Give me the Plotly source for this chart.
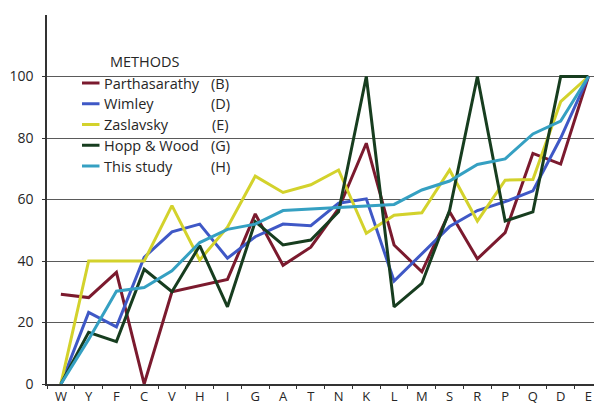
import plotly.graph_objects as go

# Amino acid residues along the x axis
residues = ["W", "Y", "F", "C", "V", "H", "I", "G", "A", "T",
            "N", "K", "L", "M", "S", "R", "P", "Q", "D", "E"]

# Normalised hydrophobicity (0-100) per method
parthasarathy = [29.2, 28.1, 36.3, 0, 30, 31.9, 34, 55.3, 38.6, 44.5,
                 57, 78.3, 45.2, 36.5, 56, 40.7, 49.2, 75, 71.5, 100]
wimley = [0, 23.3, 18.6, 41.2, 49.5, 52, 40.9, 47.9, 52, 51.5,
          58.8, 60.2, 33.5, 42.5, 51.2, 56.4, 59.3, 62.8, 80, 100]
zaslavsky = [0, 40, 40, 40, 58, 40.3, 51, 67.6, 62.3, 64.8,
             69.6, 49, 54.9, 55.7, 69.6, 53, 66.3, 66.5, 91.8, 100]
hopp_wood = [0, 16.8, 13.8, 37.3, 30, 45, 25.1, 52.8, 45.2, 46.8,
             56, 100, 25.1, 32.7, 56.5, 100, 53, 56, 100, 100]
this_study = [0, 14.5, 30.2, 31.4, 36.8, 46, 50.3, 52, 56.4, 56.9,
              57.5, 58, 58.4, 63.1, 66, 71.4, 73.2, 81.3, 85.5, 100]

method_names = ["Parthasarathy", "Wimley", "Zaslavsky", "Hopp & Wood", "This study"]
method_codes = ["(B)", "(D)", "(E)", "(G)", "(H)"]
series = [parthasarathy, wimley, zaslavsky, hopp_wood, this_study]
colors = ["#7b1a2e", "#3f58c6", "#d3d22c", "#173d1f", "#35a0c2"]

y_ticks = [0, 20, 40, 60, 80, 100]

FONT = "Open Sans"
TEXT = "#262626"

# plot-area geometry in pixels, used to place the hand-built legend
W, H = 594, 405
ML, MR, MT, MB = 47, 0, 15, 21
PW, PH = W - ML - MR, H - MT - MB


def px(x):
    return (x - ML) / PW


def py(y):
    return (H - MB - y) / PH


fig = go.Figure()
for name, vals, col in zip(method_names, series, colors):
    fig.add_trace(go.Scatter(
        x=residues, y=vals, mode="lines", name=name,
        line=dict(color=col, width=3), showlegend=False,
    ))

shapes = []
annotations = []

# white legend panel over the gridlines
shapes.append(dict(type="rect", xref="paper", yref="paper",
                   x0=px(73), x1=px(238), y0=py(176), y1=py(50),
                   fillcolor="white", line=dict(width=0), layer="between"))

annotations.append(dict(text="METHODS", xref="paper", yref="paper",
                        x=px(145), y=py(61), xanchor="center", yanchor="middle",
                        showarrow=False, font=dict(family=FONT, size=14.5, color=TEXT)))

row0, step = 83, 20.75
for i, (name, code, col) in enumerate(zip(method_names, method_codes, colors)):
    yy = row0 + i * step
    shapes.append(dict(type="line", xref="paper", yref="paper",
                       x0=px(82), x1=px(99.5), y0=py(yy), y1=py(yy),
                       line=dict(color=col, width=3)))
    annotations.append(dict(text=name, xref="paper", yref="paper",
                            x=px(102), y=py(yy), xanchor="left", yanchor="middle",
                            showarrow=False, font=dict(family=FONT, size=14.5, color=TEXT)))
    annotations.append(dict(text=code, xref="paper", yref="paper",
                            x=px(220), y=py(yy), xanchor="center", yanchor="middle",
                            showarrow=False, font=dict(family=FONT, size=14.5, color=TEXT)))

fig.update_layout(
    width=W, height=H,
    margin=dict(l=ML, r=MR, t=MT, b=MB, pad=0),
    paper_bgcolor="white", plot_bgcolor="white",
    font=dict(family=FONT, size=14, color=TEXT),
    shapes=shapes, annotations=annotations,
    xaxis=dict(
        type="category", range=[-0.5, 19.2], tickson="boundaries",
        ticks="outside", ticklen=3, tickcolor="#333", tickwidth=1,
        showgrid=False, showline=True, linecolor="#333", linewidth=1.5,
        tickfont=dict(family=FONT, size=13, color=TEXT), automargin=False,
    ),
    yaxis=dict(
        range=[0, 120], tickvals=y_ticks, ticktext=[str(v) for v in y_ticks],
        ticks="outside", ticklen=3, tickcolor="#333", ticklabelstandoff=6,
        showgrid=True, gridcolor="#5a5a5a", gridwidth=1.3,
        showline=True, linecolor="#333", linewidth=1.5, zeroline=False,
        tickfont=dict(family=FONT, size=14, color=TEXT), automargin=False,
    ),
)

fig.write_html("out.html")
